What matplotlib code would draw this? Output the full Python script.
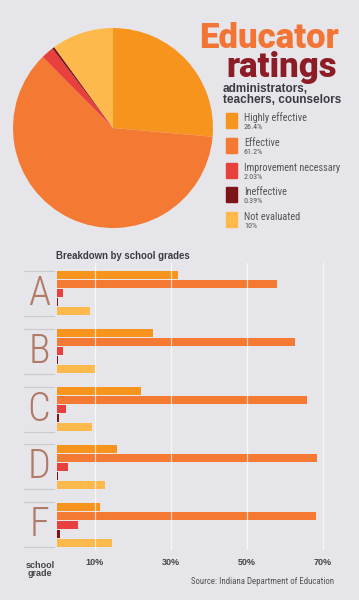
import matplotlib
matplotlib.use("Agg")
import matplotlib.pyplot as plt
from matplotlib import font_manager

# ---- data ----
categories = ["Highly effective", "Effective", "Improvement necessary", "Ineffective", "Not evaluated"]
overall = [26.4, 61.2, 2.03, 0.39, 10.0]
overall_labels = ["26.4%", "61.2%", "2.03%", "0.39%", "10%"]
grades = ["A", "B", "C", "D", "F"]
highly_effective = [32.0, 25.5, 22.3, 16.0, 11.5]
effective = [58.0, 62.7, 66.0, 68.5, 68.2]
improvement = [1.6, 1.8, 2.4, 2.9, 5.6]
ineffective = [0.5, 0.4, 0.6, 0.4, 0.9]
not_evaluated = [8.7, 10.0, 9.3, 12.7, 14.5]
xticks = [10, 30, 50, 70]
xtick_labels = ["10%", "30%", "50%", "70%"]

colors = ["#f7941e", "#f47932", "#e8403c", "#7d1518", "#fdb94c"]
bg = "#e6e6ea"

names = {f.name for f in font_manager.fontManager.ttflist}

def pick(cands):
    for c in cands:
        if c in names:
            return c
    return "DejaVu Sans"

narrow = pick(["Roboto Condensed", "Liberation Sans Narrow", "Fira Sans Condensed",
               "PT Sans Narrow", "Archivo Narrow", "Encode Sans Condensed",
               "Barlow Semi Condensed"])
boldf = pick(["Roboto", "Liberation Sans"])
NF = [narrow, "DejaVu Sans"]
BF = [boldf, "DejaVu Sans"]
plt.rcParams["font.family"] = ["Liberation Sans", "DejaVu Sans"]

W, H = 359, 600
fig = plt.figure(figsize=(W / 100, H / 100), dpi=100)
fig.patch.set_facecolor(bg)

def fx(px):
    return px / W

def fy(py):
    return 1 - py / H

# ---- pie ----
cx, cy, r = 113, 128, 100
pax = fig.add_axes([fx(cx - r), fy(cy + r), fx(2 * r), (2 * r) / H])
pax.pie(overall, colors=colors, startangle=90, counterclock=False,
        wedgeprops=dict(linewidth=0))
pax.set_aspect("auto")
pax.set_xlim(-1, 1)
pax.set_ylim(-1, 1)
pax.axis("off")

# ---- title ----
fig.text(fx(339), fy(47.5), "Educator", ha="right", va="baseline", fontsize=25,
         fontweight="black", family=BF, color="#f37535")
fig.text(fx(337), fy(77), "ratings", ha="right", va="baseline", fontsize=25,
         fontweight="black", family=BF, color="#8c1d26")
fig.text(fx(223), fy(88.5), "administrators,", ha="left", va="center", fontsize=8.5,
         fontweight="bold", color="#3a3a40")
fig.text(fx(223), fy(100), "teachers, counselors", ha="left", va="center", fontsize=8.5,
         fontweight="bold", color="#3a3a40")

# ---- legend ----
for i, (name, lab) in enumerate(zip(categories, overall_labels)):
    top = 113 + i * 24.8
    fig.patches.append(plt.Rectangle((fx(226), fy(top + 15)), fx(11), 15 / H,
                                     transform=fig.transFigure, color=colors[i]))
    fig.text(fx(244), fy(top + 5), name, ha="left", va="center", fontsize=7.4,
             family=NF, color="#555558")
    fig.text(fx(244), fy(top + 14), lab, ha="left", va="center", fontsize=5.8,
             family=NF, color="#555558")

# ---- bar chart ----
ax_top, ax_bot = 263, 550
x0_px, px_per = 56.5, 3.8
xmax = 75
ax = fig.add_axes([fx(x0_px), fy(ax_bot), fx(xmax * px_per), (ax_bot - ax_top) / H])
ax.set_facecolor("none")
ax.set_xlim(0, xmax)
ax.set_ylim(ax_bot - ax_top, 0)

series = [highly_effective, effective, improvement, ineffective, not_evaluated]
group_start = 8
pitch = 57.75
span = xmax * px_per
for gi, g in enumerate(grades):
    s = group_start + gi * pitch
    for j, vals in enumerate(series):
        ax.barh(s + j * 9 + 4.5, vals[gi], height=8, color=colors[j], zorder=2)
    for yy in (s, s + 45):
        ax.plot([(24 - x0_px) / span, (54 - x0_px) / span], [yy, yy],
                transform=ax.get_yaxis_transform(), clip_on=False, color="#c9c9ce", lw=0.8)
    ax.text((39 - x0_px) / span, s + 23, g, transform=ax.get_yaxis_transform(),
            ha="center", va="center", fontsize=29, fontweight="light", family=NF,
            color="#b07a66")

for xt in xticks:
    ax.axvline(xt, color="white", lw=0.9, alpha=0.7, zorder=3)

ax.set_xticks(xticks)
ax.set_xticklabels(xtick_labels, fontsize=6.5, fontweight="bold", color="#444448")
ax.tick_params(axis="x", length=0, pad=6)
ax.set_yticks([])
for sp in ax.spines.values():
    sp.set_visible(False)

fig.text(fx(56), fy(256), "Breakdown by school grades", ha="left", va="center", fontsize=6.9,
         fontweight="bold", color="#3a3a44")
fig.text(fx(40), fy(565), "school", ha="center", va="center", fontsize=6.5,
         fontweight="bold", color="#444448")
fig.text(fx(40), fy(574), "grade", ha="center", va="center", fontsize=6.5,
         fontweight="bold", color="#444448")
fig.text(fx(334), fy(582), "Source: Indiana Department of Education", ha="right", va="center",
         fontsize=6.4, family=NF, color="#555558")

fig.savefig("out.png", dpi=100, facecolor=bg)
